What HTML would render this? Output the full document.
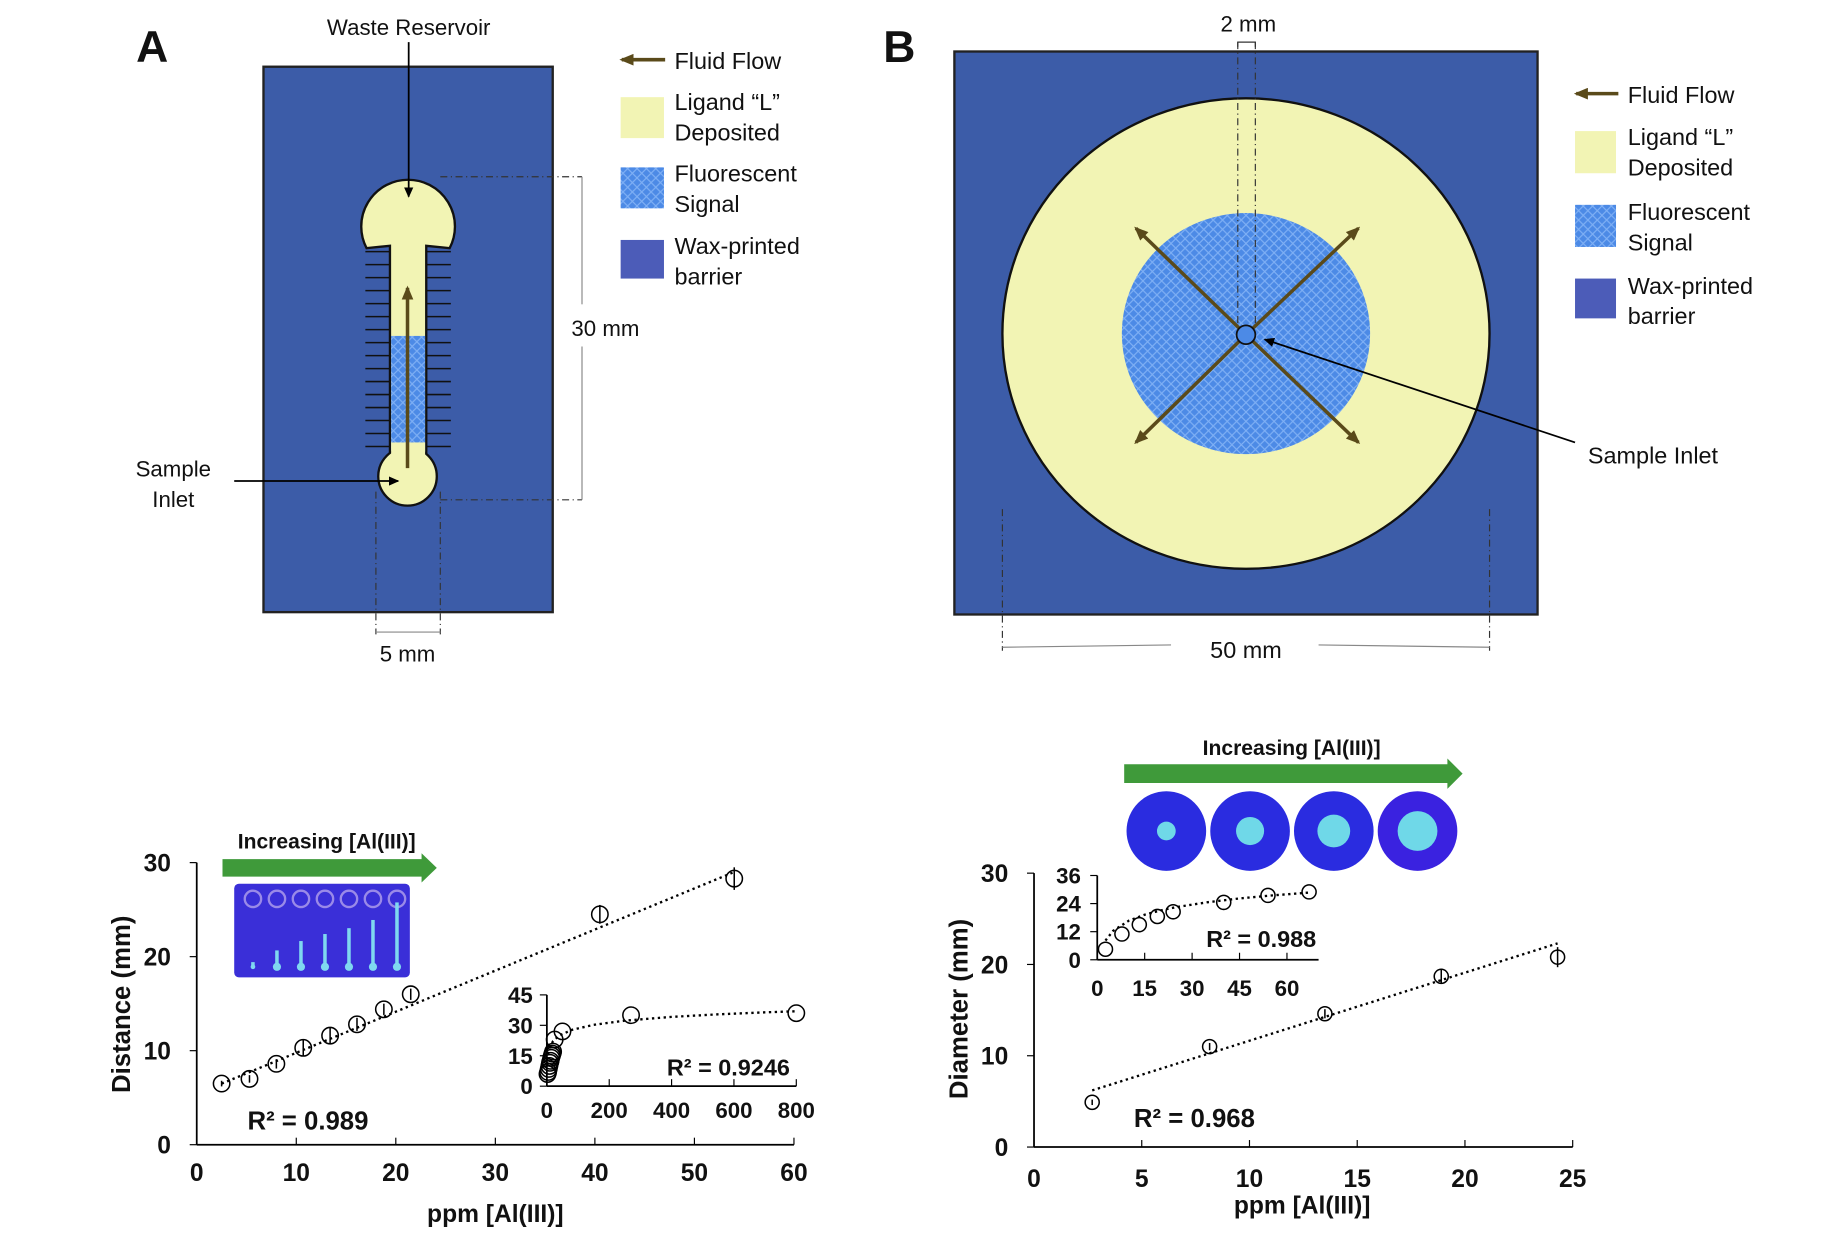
<!DOCTYPE html>
<html><head><meta charset="utf-8"><style>
html,body{margin:0;padding:0;background:#fff}
svg{display:block}
text{font-family:"Liberation Sans",Arial,sans-serif;fill:#111}
.b{font-weight:bold}
</style></head><body>
<svg id="fig" width="1835" height="1236" viewBox="0 0 1567 1056" preserveAspectRatio="none" xmlns="http://www.w3.org/2000/svg">
<defs>
<pattern id="hatch" width="8" height="8" patternUnits="userSpaceOnUse">
<rect width="8" height="8" fill="#4c8ae6"/>
<path d="M0,0L8,8M8,0L0,8" stroke="#7fb0f5" stroke-width="1"/>
</pattern>
<marker id="ab" markerUnits="userSpaceOnUse" markerWidth="12" markerHeight="10" refX="10" refY="5" orient="auto"><path d="M0,0L12,5L0,10z" fill="#5a4a1a"/></marker>
<marker id="ak" markerUnits="userSpaceOnUse" markerWidth="9" markerHeight="8" refX="8" refY="4" orient="auto"><path d="M0,0L9,4L0,8z" fill="#000"/></marker>
</defs>

<!-- Panel A -->
<g>
<text x="130" y="53" font-size="38" class="b" text-anchor="middle">A</text>
<rect x="225" y="57" width="247" height="466" fill="#3c5ca8" stroke="#222" stroke-width="2"/>
<g stroke="#111" stroke-width="1.3" id="ticksA"></g>
<path d="M333,210 L313,212 A40,40 0 1 1 384,212 L364,210 L364,395 L333,395 Z" fill="#f2f4b4" stroke="#111" stroke-width="2"/>
<rect x="334" y="287" width="29" height="103" fill="url(#hatch)"/>
<circle cx="348" cy="407" r="25" fill="#f2f4b4" stroke="#111" stroke-width="2"/>
<rect x="334" y="378" width="29" height="14" fill="#f2f4b4"/>
<line x1="348" y1="400" x2="348" y2="246" stroke="#5a4a1a" stroke-width="3" marker-end="url(#ab)"/>
<text x="349" y="30" font-size="19" text-anchor="middle">Waste Reservoir</text>
<line x1="349" y1="36" x2="349" y2="168" stroke="#000" stroke-width="1.5" marker-end="url(#ak)"/>
<text x="148" y="407" font-size="19" text-anchor="middle">Sample</text>
<text x="148" y="433" font-size="19" text-anchor="middle">Inlet</text>
<line x1="200" y1="411" x2="340" y2="411" stroke="#000" stroke-width="1.5" marker-end="url(#ak)"/>
<g stroke="#333" stroke-width="1" stroke-dasharray="6,3,1,3" fill="none">
<line x1="376" y1="151" x2="497" y2="151"/><line x1="376" y1="427" x2="497" y2="427"/>
<line x1="321" y1="420" x2="321" y2="542"/><line x1="376" y1="420" x2="376" y2="542"/>
</g>
<line x1="497" y1="151" x2="497" y2="260" stroke="#888"/><line x1="497" y1="296" x2="497" y2="427" stroke="#888"/>
<line x1="321" y1="540" x2="376" y2="540" stroke="#888"/>
<text x="517" y="287" font-size="19" text-anchor="middle">30 mm</text>
<text x="348" y="565" font-size="19" text-anchor="middle">5 mm</text>
<g>
<line x1="568" y1="51" x2="531" y2="51" stroke="#5a4a1a" stroke-width="3" marker-end="url(#ab)"/>
<text x="576" y="59" font-size="20">Fluid Flow</text>
<rect x="530" y="83" width="37" height="35" fill="#f2f4b4"/>
<text x="576" y="94" font-size="20">Ligand “L”</text><text x="576" y="120" font-size="20">Deposited</text>
<rect x="530" y="143" width="37" height="35" fill="url(#hatch)"/>
<text x="576" y="155" font-size="20">Fluorescent</text><text x="576" y="181" font-size="20">Signal</text>
<rect x="530" y="205" width="37" height="33" fill="#4c5cb8"/>
<text x="576" y="217" font-size="20">Wax-printed</text><text x="576" y="243" font-size="20">barrier</text>
</g>
</g>

<!-- Panel B -->
<g>
<text x="768" y="53" font-size="38" class="b" text-anchor="middle">B</text>
<rect x="815" y="44" width="498" height="481" fill="#3c5ca8" stroke="#222" stroke-width="2"/>
<ellipse cx="1064" cy="285" rx="208" ry="201" fill="#f2f4b4" stroke="#111" stroke-width="2"/>
<ellipse cx="1064" cy="285" rx="106" ry="103" fill="url(#hatch)"/>
<g stroke="#333" stroke-width="1" stroke-dasharray="6,3,1,3"><line x1="1057" y1="36" x2="1057" y2="280"/><line x1="1072" y1="36" x2="1072" y2="280"/>
<line x1="856" y1="435" x2="856" y2="556"/><line x1="1272" y1="435" x2="1272" y2="556"/></g>
<path d="M1057,40V36H1072V40" stroke="#333" fill="none"/>
<text x="1066" y="27" font-size="19" text-anchor="middle">2 mm</text>
<g stroke="#5a4a1a" stroke-width="3" marker-end="url(#ab)">
<line x1="1064" y1="286" x2="970" y2="195"/><line x1="1064" y1="286" x2="1160" y2="195"/>
<line x1="1064" y1="286" x2="970" y2="378"/><line x1="1064" y1="286" x2="1160" y2="378"/></g>
<circle cx="1064" cy="286" r="8" fill="#4c8ae6" stroke="#111" stroke-width="1.5"/>
<line x1="1345" y1="378" x2="1080" y2="290" stroke="#000" stroke-width="1.5" marker-end="url(#ak)"/>
<text x="1356" y="396" font-size="20">Sample Inlet</text>
<line x1="856" y1="553" x2="1000" y2="551" stroke="#888"/><line x1="1126" y1="551" x2="1272" y2="553" stroke="#888"/>
<text x="1064" y="562" font-size="20" text-anchor="middle">50 mm</text>
<g>
<line x1="1382" y1="80" x2="1346" y2="80" stroke="#5a4a1a" stroke-width="3" marker-end="url(#ab)"/>
<text x="1390" y="88" font-size="20">Fluid Flow</text>
<rect x="1345" y="112" width="35" height="36" fill="#f2f4b4"/>
<text x="1390" y="124" font-size="20">Ligand “L”</text><text x="1390" y="150" font-size="20">Deposited</text>
<rect x="1345" y="175" width="35" height="36" fill="url(#hatch)"/>
<text x="1390" y="188" font-size="20">Fluorescent</text><text x="1390" y="214" font-size="20">Signal</text>
<rect x="1345" y="238" width="35" height="34" fill="#4c5cb8"/>
<text x="1390" y="251" font-size="20">Wax-printed</text><text x="1390" y="277" font-size="20">barrier</text>
</g>
</g>

<g>
<text x="279" y="725" font-size="18" class="b" text-anchor="middle">Increasing [Al(III)]</text>
<path d="M190,734H360V729L373,741.5L360,754V749H190Z" fill="#3f9a3a"/>
<rect x="200" y="755" width="150" height="80" rx="4" fill="#3a2fd8"/>
<g id="photoCh"></g>
</g>
<g>
<text x="1103" y="645" font-size="18" class="b" text-anchor="middle">Increasing [Al(III)]</text>
<path d="M960,653H1236V648L1249,661L1236,674V669H960Z" fill="#3f9a3a"/>
<g id="discs"></g>
</g>

<g id="chartC"></g>
<g id="insetC"></g>
<g id="chartD"></g>
<g id="insetD"></g>
</svg>
<script>
// Chart C data
const cX=[2.5,5.3,8,10.7,13.4,16.1,18.8,21.5,40.5,54];
const cY=[6.5,7.0,8.6,10.3,11.6,12.8,14.4,16.0,24.5,28.3];
const cErr=[0.3,0.4,0.5,0.9,0.9,0.7,0.6,0.6,1.0,1.2];
const cXTicks=[0,10,20,30,40,50,60];
const cYTicks=[0,10,20,30];
// Inset C data
const icX=[2,4,6,8,10,12,14,16,18,20,25,50,270,800];
const icY=[6,7,8.5,10,11.5,12.5,14,15,16,17,23,27,35,36];
const icXTicks=[0,200,400,600,800];
const icYTicks=[0,15,30,45];
// Chart D data
const dX=[2.7,8.15,13.5,18.9,24.3];
const dY=[4.9,11.0,14.6,18.7,20.8];
const dErr=[0.3,0.4,0.5,0.8,1.1];
const dXTicks=[0,5,10,15,20,25];
const dYTicks=[0,10,20,30];
// Inset D data
const idX=[2.6,7.8,13.3,19,24,40,54,67];
const idY=[4.5,11,15,18.5,20.5,24.5,27.5,29];
const idXTicks=[0,15,30,45,60];
const idYTicks=[0,12,24,36];
const discR=[8,12,14,17];

const NS="http://www.w3.org/2000/svg";
function mk(p,t,a,txt){const e=document.createElementNS(NS,t);for(const k in a)e.setAttribute(k,a[k]);if(txt!==undefined)e.textContent=txt;p.appendChild(e);return e;}

const tA=document.getElementById('ticksA');
for(let y=215;y<=392;y+=11.1){mk(tA,'line',{x1:312,y1:y,x2:333,y2:y});mk(tA,'line',{x1:364,y1:y,x2:385,y2:y});}
const ph=document.getElementById('photoCh');
const lens=[4,14,22,28,33,40,55];
lens.forEach((L,i)=>{const x=216+i*20.5;mk(ph,'circle',{cx:x,cy:768,r:7,fill:'none',stroke:'#9a8ae8','stroke-width':2});
mk(ph,'rect',{x:x-1.5,y:826-L,width:3,height:L,fill:'#7fd8f0'});mk(ph,'circle',{cx:x,cy:826,r:i?3.5:2,fill:'#7fd8f0'});});
const dg=document.getElementById('discs');
discR.forEach((r,i)=>{const cx=996+i*71.5;mk(dg,'circle',{cx:cx,cy:710,r:34,fill:i==3?'#3a22e0':'#2a2ce0'});
mk(dg,'circle',{cx:cx,cy:710,r:r,fill:'#6fd8e8'});});

function chart(g,o){
  const sx=v=>o.x0+(v-o.xmin)/(o.xmax-o.xmin)*(o.x1-o.x0);
  const sy=v=>o.y0-(v-o.ymin)/(o.ymax-o.ymin)*(o.y0-o.y1);
  mk(g,'line',{x1:o.x0,y1:o.y0,x2:o.x0,y2:o.y1,stroke:'#000','stroke-width':1.5});
  mk(g,'line',{x1:o.x0,y1:o.y0,x2:o.x1,y2:o.y0,stroke:'#000','stroke-width':1.5});
  o.xt.forEach(t=>{mk(g,'line',{x1:sx(t),y1:o.y0,x2:sx(t),y2:o.y0-6,stroke:'#000'});
    const e=mk(g,'text',{x:sx(t),y:o.y0+o.xlo,'font-size':o.fs,'text-anchor':'middle','class':'b'},t);
    });
  o.yt.forEach(t=>{mk(g,'line',{x1:o.x0,y1:sy(t),x2:o.x0-6,y2:sy(t),stroke:'#000'});
    const e=mk(g,'text',{x:o.x0-o.ylo,y:sy(t)+o.fs*0.36,'font-size':o.fs,'text-anchor':'end','class':'b'},t);
    });
  let d='';o.trend.forEach((v,i)=>{d+=(i?'L':'M')+sx(v[0]).toFixed(1)+','+sy(v[1]).toFixed(1);});
  const tl=mk(g,'path',{d:d,fill:'none',stroke:'#000','stroke-width':2,'stroke-dasharray':'2,3'});
  
  o.xs.forEach((x,i)=>{const e=o.err?o.err[i]:0.5;
    if(o.err){const l=mk(g,'line',{x1:sx(x),y1:sy(o.ys[i]+e),x2:sx(x),y2:sy(o.ys[i]-e),stroke:'#000','stroke-width':1.3});
    }
    const c=mk(g,'circle',{cx:sx(x),cy:sy(o.ys[i]),r:o.r,fill:'none',stroke:'#000','stroke-width':1.3});
    });
}
function lin(xs,a,b){return [[xs[0],a+b*xs[0]],[xs[xs.length-1],a+b*xs[xs.length-1]]];}

chart(document.getElementById('chartC'),{x0:168,x1:678,y0:978,y1:737,xmin:0,xmax:60,ymin:0,ymax:30,xt:cXTicks,yt:cYTicks,
  xs:cX,ys:cY,err:cErr,r:7,fs:21,xlo:31,ylo:22,trend:lin(cX,5.4,0.437)});
const ict=[];[2,5,10,20,40,80,150,250,400,550,700,800].forEach(x=>ict.push([x,10.2+4.0*Math.log(x)]));
chart(document.getElementById('insetC'),{x0:467,x1:680,y0:928,y1:850,xmin:0,xmax:800,ymin:0,ymax:45,xt:icXTicks,yt:icYTicks,
  xs:icX,ys:icY,err:null,r:7,fs:19,xlo:27,ylo:12,trend:ict});
chart(document.getElementById('chartD'),{x0:883,x1:1343,y0:980,y1:746,xmin:0,xmax:25,ymin:0,ymax:30,xt:dXTicks,yt:dYTicks,
  xs:dX,ys:dY,err:dErr,r:6,fs:21,xlo:34,ylo:22,trend:lin(dX,4.2,0.745)});
const idt=[];[2.6,5,10,15,20,25,35,45,55,67].forEach(x=>idt.push([x,2.2+6.3*Math.log(x)]));
chart(document.getElementById('insetD'),{x0:937,x1:1126,y0:820,y1:748,xmin:0,xmax:70,ymin:0,ymax:36,xt:idXTicks,yt:idYTicks,
  xs:idX,ys:idY,err:null,r:6,fs:19,xlo:31,ylo:14,trend:idt});

const svg=document.getElementById('fig');
function lab(x,y,s,t,rot,name){const e=mk(svg,'text',{x:x,y:y,'font-size':s,'text-anchor':'middle','class':'b'},t);
  if(rot)e.setAttribute('transform','rotate(-90 '+x+' '+y+')');
  }
lab(111,858,22,'Distance (mm)',true,'y-axis-title-distance');
lab(423,1044,21,'ppm [Al(III)]',false,'x-axis-title-c');
lab(263,965,22,'R² = 0.989',false,'r2-c');
lab(622,919,20,'R² = 0.9246',false,'r2-inset-c');
lab(826,862,22,'Diameter (mm)',true,'y-axis-title-diameter');
lab(1112,1037,21,'ppm [Al(III)]',false,'x-axis-title-d');
lab(1020,963,22,'R² = 0.968',false,'r2-d');
lab(1077,809,20,'R² = 0.988',false,'r2-inset-d');
</script>
</body></html>
